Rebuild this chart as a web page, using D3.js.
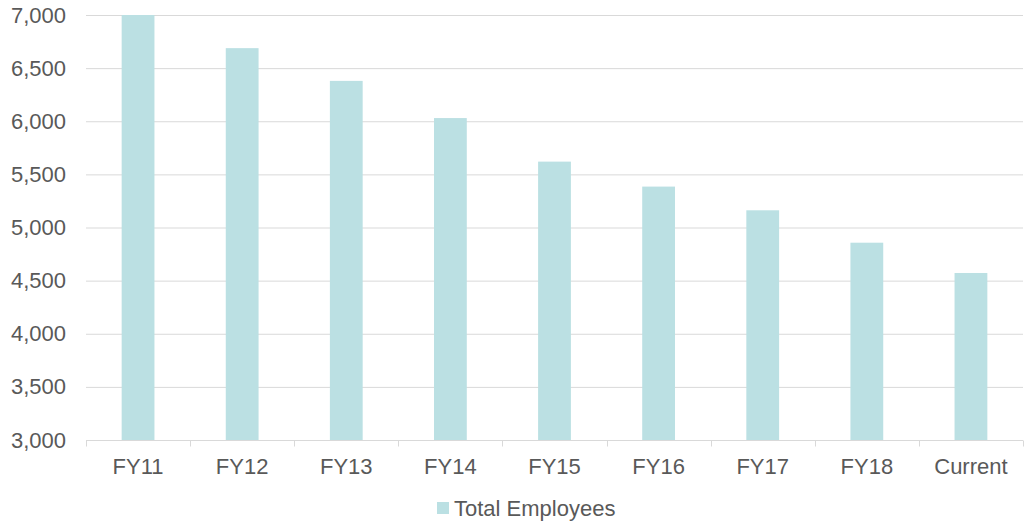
<!DOCTYPE html>
<html>
<head>
<meta charset="utf-8">
<script src="https://cdn.jsdelivr.net/npm/d3@7"></script>
<style>
  body { margin: 0; background: #fff; }
  svg text { font-family: "Liberation Sans", Arial, sans-serif; fill: #595959; }
</style>
</head>
<body>
<svg id="chart" width="1028" height="522"></svg>
<script>
var categories = ["FY11", "FY12", "FY13", "FY14", "FY15", "FY16", "FY17", "FY18", "Current"];
var employees = [7000, 6688, 6380, 6030, 5620, 5385, 5162, 4857, 4572];
var yTicks = [3000, 3500, 4000, 4500, 5000, 5500, 6000, 6500, 7000];
var seriesName = "Total Employees";

var svg = d3.select("#chart");
var plotLeft = 86, plotRight = 1023, plotTop = 15, plotBottom = 440;
var barColor = "#bbe0e3";

var x = d3.scaleBand()
    .domain(categories)
    .range([plotLeft, plotRight])
    .paddingInner(0.685)
    .paddingOuter(0.3425);

var y = d3.scaleLinear()
    .domain([3000, 7000])
    .range([plotBottom, plotTop]);

// gridlines
svg.append("g")
  .selectAll("line")
  .data(yTicks.slice(1))
  .join("line")
    .attr("x1", plotLeft).attr("x2", plotRight)
    .attr("y1", d => y(d) + 0.5).attr("y2", d => y(d) + 0.5)
    .attr("stroke", "#d9d9d9")
    .attr("stroke-width", 1);

// y labels
var yAxis = svg.append("g")
    .attr("transform", `translate(${plotLeft},0)`)
    .call(d3.axisLeft(y).tickValues(yTicks).tickFormat(d3.format(",")).tickSize(0).tickPadding(20));
yAxis.select(".domain").remove();
yAxis.selectAll("text").attr("font-size", 22).attr("font-family", null).style("fill", "#595959");

// bars
svg.append("g")
  .selectAll("rect")
  .data(employees)
  .join("rect")
    .attr("x", (d, i) => x(categories[i]))
    .attr("width", x.bandwidth())
    .attr("y", d => y(d))
    .attr("height", d => y(3000) - y(d))
    .attr("fill", barColor);

// x axis
var xAxis = svg.append("g")
    .attr("transform", `translate(0,${plotBottom + 0.5})`);
xAxis.append("line")
    .attr("x1", plotLeft).attr("x2", plotRight)
    .attr("stroke", "#d9d9d9");
xAxis.selectAll(".tk")
  .data(d3.range(categories.length + 1))
  .join("line")
    .attr("class", "tk")
    .attr("x1", i => Math.round(plotLeft + i * (plotRight - plotLeft) / categories.length) + 0.5)
    .attr("x2", i => Math.round(plotLeft + i * (plotRight - plotLeft) / categories.length) + 0.5)
    .attr("y1", 0).attr("y2", 6)
    .attr("stroke", "#d9d9d9");
xAxis.selectAll("text")
  .data(categories)
  .join("text")
    .attr("x", d => x(d) + x.bandwidth() / 2)
    .attr("y", 33)
    .attr("text-anchor", "middle")
    .attr("font-size", 22)
    .text(d => d);

// legend
var legend = svg.append("g").attr("transform", "translate(437,502)");
legend.append("rect")
    .attr("width", 12).attr("height", 12)
    .attr("fill", barColor);
legend.append("text")
    .attr("x", 17).attr("y", 14)
    .attr("font-size", 22)
    .text(seriesName);
</script>
</body>
</html>
